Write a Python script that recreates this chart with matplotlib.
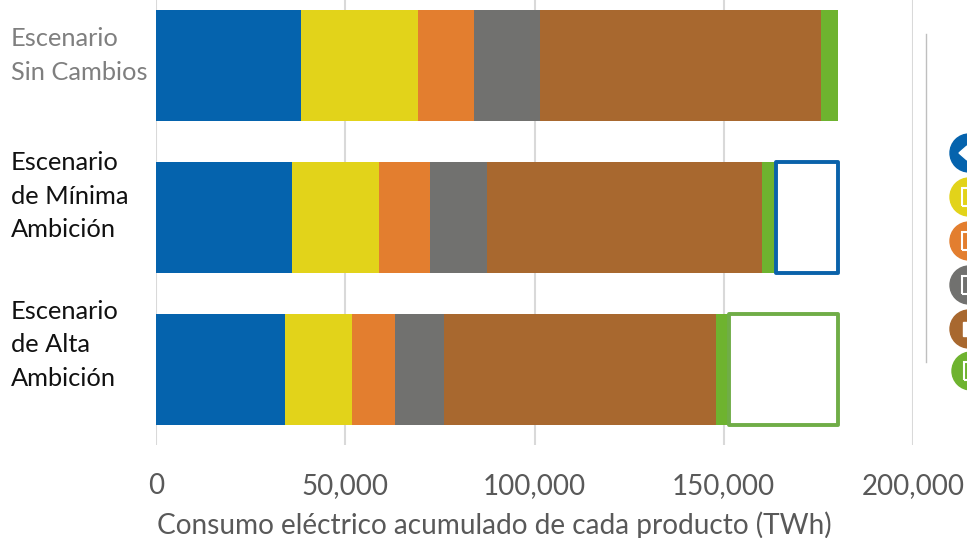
import matplotlib
matplotlib.use("Agg")
from matplotlib import pyplot as plt
from matplotlib.patches import Ellipse, Rectangle, Polygon

escenarios = ["Escenario\nSin Cambios", "Escenario\nde Mínima\nAmbición", "Escenario\nde Alta\nAmbición"]
azul = [38400, 35900, 34100]
amarillo = [30700, 22900, 17700]
naranja = [14800, 13500, 11300]
gris = [17600, 15200, 12900]
marron = [74100, 72600, 72000]
verde = [4600, 3700, 3500]
ahorro = [0, 16500, 28800]
ticks = [0, 50000, 100000, 150000, 200000]
tick_labels = ["0", "50,000", "100,000", "150,000", "200,000"]

series = [azul, amarillo, naranja, gris, marron, verde]
colores = ["#0563AD", "#E2D31A", "#E37E2F", "#71716F", "#A8682F", "#6EB32F"]
bordes = [None, "#0A62AA", "#70AD47"]

plt.rcParams["font.family"] = ["Lato", "DejaVu Sans"]

W, H = 967, 538
fig = plt.figure(figsize=(W / 100, H / 100), dpi=100)
ax = fig.add_axes([156 / W, 1 - 445 / H, (913 - 156) / W, 445 / H])

y = [0, 1, 2]
left = [0, 0, 0]
for vals, c in zip(series, colores):
    ax.barh(y, vals, left=left, height=0.73, color=c, zorder=3)
    left = [a + b for a, b in zip(left, vals)]

for i in y:
    if ahorro[i] > 0:
        ax.barh(i, ahorro[i], left=left[i], height=0.73, facecolor="white",
                edgecolor=bordes[i], linewidth=2.8, joinstyle="round", zorder=4)

ax.set_xlim(0, 200000)
ax.set_ylim(2.497, -0.431)
ax.set_xticks(ticks)
ax.set_xticklabels(tick_labels, fontsize=20, color="#595959")
ax.tick_params(axis="x", length=0, pad=20)
ax.set_yticks([])
ax.grid(axis="x", color="#D9D9D9", linewidth=1.5, zorder=0)
ax.set_axisbelow(True)
for s in ax.spines.values():
    s.set_visible(False)
fig.text(494 / W, 1 - 525 / H, "Consumo eléctrico acumulado de cada producto (TWh)",
         fontsize=20.2, color="#595959", ha="center", va="center")

centros = [55.5, 196, 345]
for i, t in enumerate(escenarios):
    col = "#7F7F7F" if i == 0 else "#111111"
    fig.text(11 / W, 1 - centros[i] / H, t, ha="left", va="center",
             fontsize=18.3, color=col, linespacing=1.53)

# leyenda cortada por el borde
fig.add_artist(plt.Line2D([926 / W, 926 / W], [1 - 34 / H, 1 - 362 / H], color="#BFBFBF", lw=1))
iconos = [(969, 153, colores[0]), (969, 197, colores[1]), (969, 241, colores[2]),
          (969, 285, colores[3]), (969, 329, colores[4]), (971, 371, colores[5])]
for px, py, c in iconos:
    fig.add_artist(Ellipse((px / W, 1 - py / H), 38 / W, 38 / H, color=c, transform=fig.transFigure))
    if c == colores[0]:
        fig.add_artist(Polygon([[959 / W, 1 - 153 / H], [967 / W, 1 - 146 / H], [967 / W, 1 - 160 / H]],
                               closed=True, color="white", transform=fig.transFigure))
    elif c != colores[4]:
        fig.add_artist(Rectangle(((px - 7) / W, 1 - (py + 9) / H), 10 / W, 18 / H, facecolor="none",
                                 edgecolor="white", lw=1.5, transform=fig.transFigure))
    else:
        fig.add_artist(Rectangle(((px - 6) / W, 1 - (py + 7) / H), 9 / W, 14 / H, facecolor="white",
                                 edgecolor="white", lw=1, transform=fig.transFigure))

fig.savefig("out.png", dpi=100)
